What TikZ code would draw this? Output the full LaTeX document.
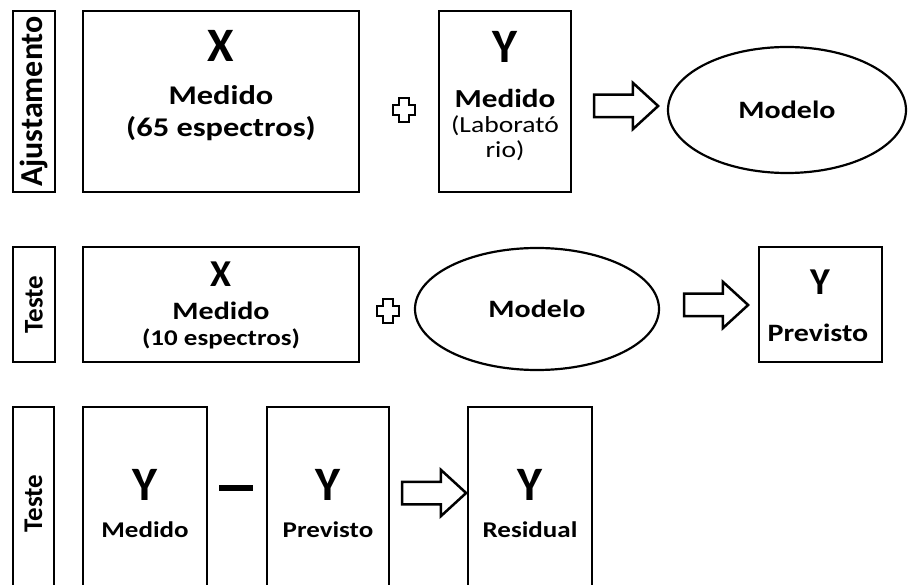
\documentclass[tikz,border=0pt]{standalone}
\usepackage{fontspec}
\setmainfont{Carlito}
\newfontfamily\widefont{Carlito}[FakeStretch=1.2]
\usetikzlibrary{shapes.geometric,shapes.arrows}

\begin{document}
\begin{tikzpicture}[x=1pt,y=-1pt,
    box/.style={draw,line width=2.5pt,inner sep=0pt},
    tag/.style={box,rotate=90,minimum height=42pt,font=\bfseries\fontsize{32}{32}\selectfont},
    oval/.style={draw,ellipse,line width=2.2pt,inner sep=0pt,font=\widefont\bfseries\fontsize{25}{25}\selectfont},
    bigsym/.style={anchor=base,font=\bfseries\fontsize{48}{48}\selectfont},
    txt/.style={anchor=base,font=\widefont\bfseries\fontsize{27}{27}\selectfont},
    txts/.style={anchor=base,font=\widefont\bfseries\fontsize{22.5}{22.5}\selectfont},
    lighttxt/.style={anchor=base,font=\widefont\fontsize{23}{23}\selectfont},
    blockarrow/.style={single arrow,draw,line width=2.5pt,fill=white,minimum height=64pt,inner sep=10pt,
      single arrow head extend=12pt,single arrow tip angle=85},
    crossmark/.style={draw,line width=2.5pt,fill=white,line join=miter}]
  \useasboundingbox (0,0) rectangle (908,585);

  % Ajustamento
  \node[tag,minimum width=181pt] (lab1) at (34,101.5) {Ajustamento};
  \node[box,minimum width=276pt,minimum height=181pt] (xa) at (221,101.5) {};
  \node[bigsym] (xa-s) at (221,62) {X};
  \node[txt] (xa-l1) at (221,105) {Medido};
  \node[txt] (xa-l2) at (221,137) {(65 espectros)};
  \coordinate (p1) at (404,110);
  \draw[crossmark,shift={(p1)}] (-5,-12) -- (5,-12) -- (5,-5) -- (11,-5) -- (11,5) -- (5,5)
    -- (5,12) -- (-5,12) -- (-5,5) -- (-11,5) -- (-11,-5) -- (-5,-5) -- cycle;
  \node[box,minimum width=132pt,minimum height=181pt] (ya) at (505,101.5) {};
  \node[bigsym] (ya-s) at (505,63) {Y};
  \node[txt,font=\widefont\bfseries\fontsize{26}{26}\selectfont] (ya-l1) at (505,108) {Medido};
  \node[lighttxt] (ya-l2) at (505,133) {(Laborató};
  \node[lighttxt] (ya-l3) at (505,158) {rio)};
  \node[blockarrow] (a1) at (620,106) {};
  \node[oval,minimum width=238pt,minimum height=126pt] (mo1) at (787,110) {Modelo};

  % Teste
  \node[tag,minimum width=115pt,font=\bfseries\fontsize{27}{27}\selectfont] (lab2) at (34,304.5) {Teste};
  \node[box,minimum width=276pt,minimum height=115pt] (xb) at (221,304.5) {};
  \node[bigsym,font=\bfseries\fontsize{38}{38}\selectfont] (xb-s) at (221,287) {X};
  \node[txt,font=\widefont\bfseries\fontsize{25}{25}\selectfont] (xb-l1) at (221,320) {Medido};
  \node[txts] (xb-l2) at (221,345) {(10 espectros)};
  \coordinate (p2) at (388,311);
  \draw[crossmark,shift={(p2)}] (-5,-12) -- (5,-12) -- (5,-5) -- (11,-5) -- (11,5) -- (5,5)
    -- (5,12) -- (-5,12) -- (-5,5) -- (-11,5) -- (-11,-5) -- (-5,-5) -- cycle;
  \node[oval,minimum width=244pt,minimum height=122pt] (mo2) at (537,309) {Modelo};
  \node[blockarrow] (a2) at (710,305) {};
  \node[box,minimum width=123pt,minimum height=115pt] (yb) at (820.5,304.5) {};
  \node[bigsym,font=\bfseries\fontsize{38}{38}\selectfont] (yb-s) at (820,295) {Y};
  \node[txt,font=\widefont\bfseries\fontsize{25}{25}\selectfont] (yb-l1) at (818,342) {Previsto};

  % Teste (residuos)
  \node[tag,minimum width=193pt,minimum height=41pt,font=\bfseries\fontsize{27}{27}\selectfont] (lab3) at (33.5,503.5) {Teste};
  \node[box,minimum width=124pt,minimum height=193pt] (yc1) at (145,503.5) {};
  \node[bigsym] (yc1-s) at (145,500) {Y};
  \node[txts] (yc1-l1) at (145,537) {Medido};
  \node[fill,inner sep=0pt,minimum width=34pt,minimum height=6pt] (minus) at (236,488) {};
  \node[box,minimum width=122pt,minimum height=193pt] (yc2) at (328,503.5) {};
  \node[bigsym] (yc2-s) at (328,500) {Y};
  \node[txts] (yc2-l1) at (328,537) {Previsto};
  \node[blockarrow] (a3) at (428,493) {};
  \node[box,minimum width=124pt,minimum height=193pt] (yc3) at (530,503.5) {};
  \node[bigsym] (yc3-s) at (530,500) {Y};
  \node[txts] (yc3-l1) at (530,537) {Residual};
\end{tikzpicture}
\end{document}
